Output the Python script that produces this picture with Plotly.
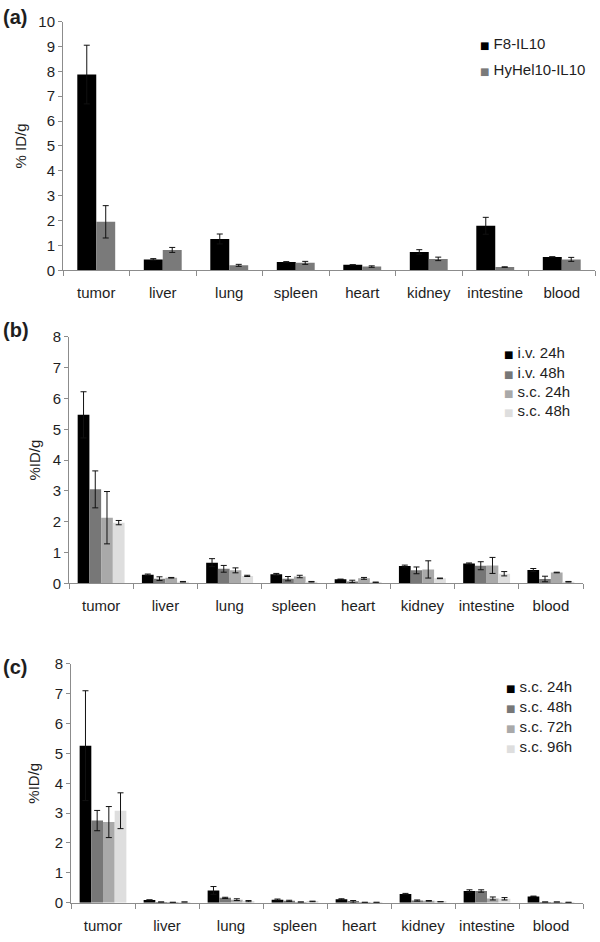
import plotly.graph_objects as go

W, H = 600, 942

organs = ["tumor", "liver", "lung", "spleen", "heart", "kidney", "intestine", "blood"]

# Panel (a)
a_names = ["F8-IL10", "HyHel10-IL10"]
a_f8 = [7.87, 0.44, 1.26, 0.33, 0.22, 0.74, 1.79, 0.54]
a_f8_err = [1.18, 0.03, 0.20, 0.02, 0.0, 0.09, 0.34, 0.0]
a_hy = [1.95, 0.82, 0.20, 0.30, 0.15, 0.46, 0.13, 0.44]
a_hy_err = [0.65, 0.10, 0.04, 0.06, 0.03, 0.07, 0.01, 0.08]

# Panel (b)
b_names = ["i.v. 24h", "i.v. 48h", "s.c. 24h", "s.c. 48h"]
b_iv24 = [5.47, 0.28, 0.67, 0.29, 0.13, 0.56, 0.64, 0.43]
b_iv24_err = [0.75, 0.02, 0.13, 0.03, 0.0, 0.03, 0.02, 0.05]
b_iv48 = [3.05, 0.15, 0.47, 0.15, 0.06, 0.42, 0.57, 0.14]
b_iv48_err = [0.60, 0.06, 0.11, 0.07, 0.04, 0.11, 0.13, 0.09]
b_sc24 = [2.13, 0.18, 0.42, 0.22, 0.16, 0.45, 0.58, 0.35]
b_sc24_err = [0.85, 0.01, 0.08, 0.04, 0.03, 0.28, 0.26, 0.01]
b_sc48 = [1.97, 0.05, 0.24, 0.05, 0.03, 0.16, 0.31, 0.05]
b_sc48_err = [0.07, 0.01, 0.02, 0.01, 0.01, 0.01, 0.07, 0.01]

# Panel (c)
c_names = ["s.c. 24h", "s.c. 48h", "s.c. 72h", "s.c. 96h"]
c_24 = [5.26, 0.09, 0.41, 0.10, 0.11, 0.29, 0.39, 0.21]
c_24_err = [1.84, 0.0, 0.13, 0.02, 0.02, 0.02, 0.04, 0.01]
c_48 = [2.75, 0.02, 0.16, 0.06, 0.03, 0.07, 0.39, 0.02]
c_48_err = [0.34, 0.0, 0.02, 0.02, 0.04, 0.02, 0.04, 0.0]
c_72 = [2.70, 0.01, 0.10, 0.02, 0.01, 0.06, 0.14, 0.02]
c_72_err = [0.52, 0.0, 0.03, 0.0, 0.0, 0.01, 0.05, 0.0]
c_96 = [3.08, 0.02, 0.05, 0.04, 0.01, 0.03, 0.13, 0.01]
c_96_err = [0.60, 0.0, 0.02, 0.01, 0.0, 0.0, 0.04, 0.0]

ylabels = ["% ID/g", "%ID/g", "%ID/g"]
panel_labels = ["(a)", "(b)", "(c)"]

col2 = ["#000000", "#7a7a7a"]
col4 = ["#000000", "#777777", "#a9a9a9", "#dedede"]

FONT = "Liberation Sans, Arial, sans-serif"
TXT = "#1e1e1e"
AX = "#8c8c8c"

fig = go.Figure()


def px_x(p):
    return p / W


def px_y(p):
    # target pixel row -> paper fraction (compensates the page's vertical fit)
    p = (p - 8.4) / 0.983
    return 1 - p / H


legend_annots = []


def add_panel(series, errs, names, colors, ax, leg_x, leg_ys, two=False):
    for i, (vals, e, n, c) in enumerate(zip(series, errs, names, colors)):
        kw = {}
        if two:
            kw = dict(width=0.285, offset=-0.285 + 0.285 * i)
        fig.add_trace(go.Bar(
            x=organs, y=vals, name=n, marker=dict(color=c, line=dict(width=0)),
            error_y=dict(type="data", array=e, color="#111111", thickness=1, width=3),
            xaxis="x" + ax, yaxis="y" + ax, showlegend=False, **kw))
        legend_annots.append(dict(
            text=('<span style="font-family:DejaVu Sans;font-size:10px;color:%s">■</span>'
                  ' %s' % (c, n)),
            x=px_x(leg_x), y=px_y(leg_ys[i]), xref="paper", yref="paper",
            xanchor="left", yanchor="middle", showarrow=False,
            font=dict(size=15, color=TXT, family=FONT)))


add_panel([a_f8, a_hy], [a_f8_err, a_hy_err], a_names, col2, "", 478, [43, 69], two=True)
add_panel([b_iv24, b_iv48, b_sc24, b_sc48], [b_iv24_err, b_iv48_err, b_sc24_err, b_sc48_err],
          b_names, col4, "2", 502, [352.5, 372, 391.5, 410.5])
add_panel([c_24, c_48, c_72, c_96], [c_24_err, c_48_err, c_72_err, c_96_err],
          c_names, col4, "3", 504, [687, 707, 727, 747])

panels = [
    # (x0, x1, ytop, ybottom, ymax, title standoff)
    (63, 595, 21, 270, 10, 8),
    (69, 583, 336.7, 583.3, 8, 8),
    (71, 583, 664, 903, 8, 11),
]

layout = dict(
    width=W, height=H, margin=dict(l=0, r=0, t=0, b=0),
    plot_bgcolor="white", paper_bgcolor="white",
    barmode="group", bargap=0.27, bargroupgap=0,
    font=dict(family=FONT, size=15, color=TXT),
    showlegend=False,
)
for k, (x0, x1, yt, yb, ymax, so) in enumerate(panels):
    sfx = "" if k == 0 else str(k + 1)
    layout["xaxis" + sfx] = dict(
        domain=[px_x(x0), px_x(x1)], anchor="y" + sfx, type="category",
        categoryorder="array", categoryarray=organs,
        showline=True, linecolor=AX, linewidth=1, showgrid=False,
        ticks="outside", tickson="boundaries", ticklen=5, tickcolor=AX,
        tickangle=0, ticklabelstandoff=9,
        tickfont=dict(size=15, color=TXT, family=FONT),
        fixedrange=True)
    layout["yaxis" + sfx] = dict(
        domain=[px_y(yb), px_y(yt)], anchor="x" + sfx,
        range=[0, ymax], dtick=1, tick0=0,
        showline=True, linecolor=AX, linewidth=1, showgrid=False, zeroline=False,
        ticks="outside", ticklen=4, tickcolor=AX,
        tickfont=dict(size=15, color=TXT, family=FONT),
        title=dict(text=ylabels[k], standoff=so, font=dict(size=15, color=TXT, family=FONT)),
        fixedrange=True)

label_y = [16, 330, 667]
layout["annotations"] = [
    dict(text="<b>%s</b>" % panel_labels[k], x=px_x(1), y=px_y(label_y[k]),
         xref="paper", yref="paper", xanchor="left", yanchor="middle",
         showarrow=False, font=dict(size=20, color=TXT, family=FONT))
    for k in range(3)
] + legend_annots

fig.update_layout(**layout)

post = (
    "document.documentElement.style.margin='0';"
    "document.body.style.margin='0';"
    "document.documentElement.style.overflow='hidden';"
    "document.body.style.overflow='hidden';"
    "var gd=document.getElementsByClassName('plotly-graph-div')[0];"
    "gd.style.position='fixed';gd.style.left='0px';gd.style.top='0px';"
    "document.body.style.height='942px';"
)
fig.write_html("out.html", config={"displayModeBar": False}, post_script=post)
